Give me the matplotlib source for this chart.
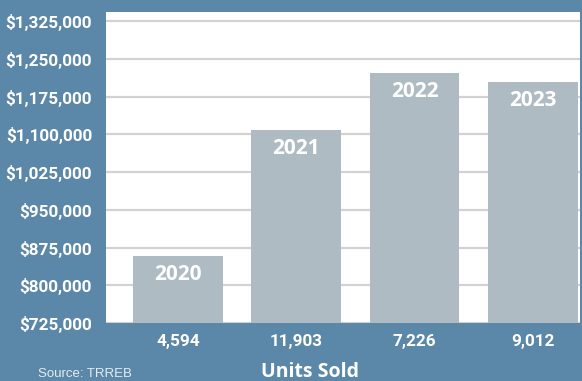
import matplotlib.pyplot as plt
from matplotlib.ticker import FuncFormatter

# data
years = ['2020', '2021', '2022', '2023']
avg_price = [858000, 1108000, 1222000, 1204000]
units_sold = ['4,594', '11,903', '7,226', '9,012']
yticks = [725000, 800000, 875000, 950000, 1025000, 1100000, 1175000, 1250000, 1325000]

bg = '#5b87a8'
bar_col = '#aebbc2'

plt.rcParams['font.family'] = 'Roboto'
plt.rcParams['font.weight'] = 'bold'

fig = plt.figure(figsize=(5.82, 3.81), dpi=100, facecolor=bg)
ax = fig.add_axes([106 / 582, 58 / 381, 474 / 582, 311 / 381])
ax.set_facecolor('white')

x = range(len(years))
bars = ax.bar(x, avg_price, width=0.76, color=bar_col, zorder=2)

# year labels inside the bars
for xi, val, yr in zip(x, avg_price, years):
    ax.annotate(yr, (xi, val), xytext=(0, -13), textcoords='offset points',
                ha='center', va='center', color='white', fontsize=15,
                fontweight='bold', family='Open Sans')

ax.set_ylim(725000, 1343700)
ax.set_xlim(-0.61, 3.40)
ax.set_yticks(yticks)
ax.yaxis.set_major_formatter(FuncFormatter(lambda v, p: '${:,.0f}'.format(v)))
ax.grid(axis='y', color='#d2d2d2', linewidth=1.6, zorder=1)
ax.set_xticks(list(x))
ax.set_xticklabels(units_sold)

for s in ax.spines.values():
    s.set_visible(False)
ax.tick_params(length=0, colors='white', labelsize=12.3)
ax.tick_params(axis='y', pad=10)
ax.tick_params(axis='x', pad=8)

fig.text(310 / 582, 1 - 372 / 381, 'Units Sold', ha='center', va='center',
         color='white', fontsize=14, fontweight='bold', family='Open Sans')
fig.text(85 / 582, 1 - 374 / 381, 'Source: TRREB', ha='center', va='center',
         color='#e4ecf2', fontsize=9.5, fontweight='normal',
         family='Liberation Sans')

fig.savefig('out.png', dpi=100, facecolor=bg)
